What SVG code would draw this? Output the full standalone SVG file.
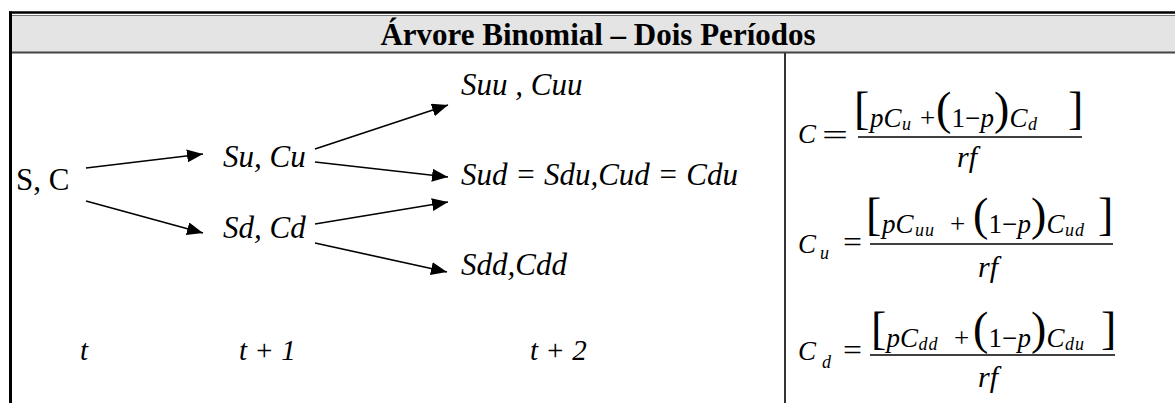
<svg xmlns="http://www.w3.org/2000/svg" width="1175" height="403" viewBox="0 0 1175 403">
<style>
text{font-family:"Liberation Serif","Times New Roman",serif;fill:#000}
.i{font-style:italic}
.n{font-size:31px}
.m{font-size:27px}
.c{stroke:#000;stroke-width:1.6;fill:none}
.big{font-size:46px;font-style:normal}
.sub{font-size:18px;font-style:italic;letter-spacing:1px}
.bar{stroke:#000;stroke-width:1.6}
</style>
<defs>
<marker id="ah" markerUnits="userSpaceOnUse" markerWidth="17" markerHeight="13" refX="16" refY="6.5" orient="auto">
<path d="M0,0 L16,6.5 L0,13 z" fill="#000"/>
</marker>
</defs>
<rect x="0" y="0" width="1175" height="403" fill="#fff"/>
<g id="frame">
<rect x="11" y="15" width="1164" height="37.5" fill="#e4e4e4"/>
<line x1="9" y1="12.5" x2="1175" y2="12.5" stroke="#000" stroke-width="2.5"/>
<line x1="11" y1="15.5" x2="1175" y2="15.5" stroke="#777" stroke-width="1"/>
<line x1="11" y1="52.5" x2="1175" y2="52.5" stroke="#444" stroke-width="2"/>
<line x1="10.5" y1="11.5" x2="10.5" y2="403" stroke="#000" stroke-width="3"/>
<line x1="785" y1="53" x2="785" y2="403" stroke="#333" stroke-width="2"/>
<text x="598" y="45" font-size="31" font-weight="bold" text-anchor="middle">Árvore Binomial – Dois Períodos</text>
</g>
<g id="connectors">
<line class="c" x1="86" y1="168" x2="203" y2="154" marker-end="url(#ah)"/>
<line class="c" x1="86" y1="201" x2="203" y2="233" marker-end="url(#ah)"/>
<line class="c" x1="315" y1="149" x2="448" y2="105" marker-end="url(#ah)"/>
<line class="c" x1="315" y1="162" x2="448" y2="177" marker-end="url(#ah)"/>
<line class="c" x1="315" y1="224" x2="448" y2="202" marker-end="url(#ah)"/>
<line class="c" x1="315" y1="243" x2="447" y2="272" marker-end="url(#ah)"/>
</g>
<g id="n-sc"><text class="n" x="16" y="190">S, C</text></g>
<g id="n-su"><text class="n i" x="223" y="167">Su, Cu</text></g>
<g id="n-sd"><text class="n i" x="223" y="238">Sd, Cd</text></g>
<g id="n-suu"><text class="n i" x="461" y="95">Suu , Cuu</text></g>
<g id="n-sud"><text class="n i" x="461" y="185">Sud = Sdu,Cud = Cdu</text></g>
<g id="n-sdd"><text class="n i" x="461" y="275">Sdd,Cdd</text></g>
<g id="time">
<text class="i" x="80" y="360" font-size="29">t</text>
<text class="i" x="239" y="360" font-size="29">t + 1</text>
<text class="i" x="530" y="360" font-size="29">t + 2</text>
</g>
<g id="f-c">
<text class="m i" x="798" y="143">C</text>
<text x="822" y="145" font-size="30" textLength="26" lengthAdjust="spacingAndGlyphs">=</text>
<text class="m"><tspan class="big" x="854" y="124">[</tspan><tspan class="i" x="870" y="127">p</tspan><tspan class="i" x="883.5" y="127">C</tspan><tspan class="sub" x="902" y="130">u</tspan><tspan x="920" y="127">+</tspan><tspan class="big" x="936" y="124">(</tspan><tspan x="951.5" y="127">1</tspan><tspan x="965" y="127">−</tspan><tspan class="i" x="980.5" y="127">p</tspan><tspan class="big" x="994" y="124">)</tspan><tspan class="i" x="1009.5" y="127">C</tspan><tspan class="sub" x="1028" y="130">d</tspan><tspan class="big" x="1068" y="124">]</tspan></text>
<line class="bar" x1="858" y1="137" x2="1082" y2="137"/>
<text class="i" x="967" y="167" font-size="30" text-anchor="middle">rf</text>
</g>
<g id="f-cu">
<text class="m i" x="798" y="253">C<tspan class="sub" x="820" y="259">u</tspan></text>
<text x="843" y="252" font-size="30" textLength="19" lengthAdjust="spacingAndGlyphs">=</text>
<text class="m"><tspan class="big" x="866" y="230">[</tspan><tspan class="i" x="882" y="233">p</tspan><tspan class="i" x="895.5" y="233">C</tspan><tspan class="sub" x="915" y="236">uu</tspan><tspan x="950" y="233">+</tspan><tspan class="big" x="973" y="230">(</tspan><tspan x="988.5" y="233">1</tspan><tspan x="1002" y="233">−</tspan><tspan class="i" x="1017.5" y="233">p</tspan><tspan class="big" x="1031" y="230">)</tspan><tspan class="i" x="1046.5" y="233">C</tspan><tspan class="sub" x="1065" y="236">ud</tspan><tspan class="big" x="1098" y="230">]</tspan></text>
<line class="bar" x1="870" y1="244" x2="1113" y2="244"/>
<text class="i" x="988" y="277" font-size="30" text-anchor="middle">rf</text>
</g>
<g id="f-cd">
<text class="m i" x="798" y="360">C<tspan class="sub" x="822" y="368">d</tspan></text>
<text x="843" y="360" font-size="30" textLength="19" lengthAdjust="spacingAndGlyphs">=</text>
<text class="m"><tspan class="big" x="871" y="344">[</tspan><tspan class="i" x="886.5" y="347">p</tspan><tspan class="i" x="900" y="347">C</tspan><tspan class="sub" x="918.5" y="350">dd</tspan><tspan x="954" y="347">+</tspan><tspan class="big" x="973" y="344">(</tspan><tspan x="988.5" y="347">1</tspan><tspan x="1002" y="347">−</tspan><tspan class="i" x="1017.5" y="347">p</tspan><tspan class="big" x="1031" y="344">)</tspan><tspan class="i" x="1046.5" y="347">C</tspan><tspan class="sub" x="1065" y="350">du</tspan><tspan class="big" x="1101" y="344">]</tspan></text>
<line class="bar" x1="870" y1="355" x2="1115" y2="355"/>
<text class="i" x="988" y="387" font-size="30" text-anchor="middle">rf</text>
</g>
</svg>
